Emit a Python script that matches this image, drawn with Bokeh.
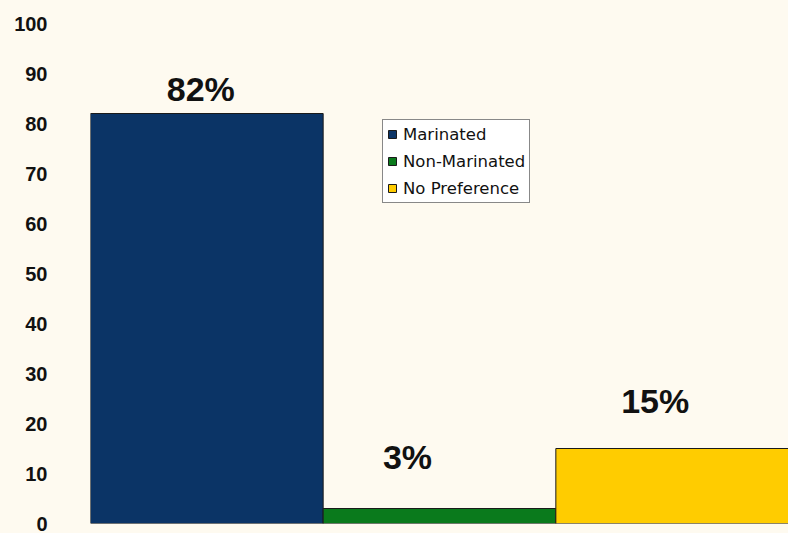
from bokeh.plotting import figure
from bokeh.models import ColumnDataSource, FixedTicker, LabelSet, Legend, LegendItem, FactorRange, Range1d
from bokeh.embed import file_html
from bokeh.resources import INLINE
from bokeh.core.properties import value

# ---- data ----
categories = ["Marinated", "Non-Marinated", "No Preference"]
percentages = [82, 3, 15]
pct_labels = ["82%", "3%", "15%"]
y_ticks = [0, 10, 20, 30, 40, 50, 60, 70, 80, 90, 100]

# ---- style / layout ----
colors = ["#0B3466", "#0A7A1C", "#FFCC00"]
label_dx = [-6, -32, -17]
label_dy = [25, 52, 48]
BG = "#FEFAF0"

src = ColumnDataSource(dict(cat=categories, val=percentages, lab=pct_labels,
                            color=colors, dx=label_dx, dy=label_dy))

p = figure(x_range=FactorRange(factors=categories, range_padding=0),
           y_range=Range1d(0, 100),
           width=788, height=533, output_backend="svg", toolbar_location=None,
           min_border_left=90, min_border_right=0, min_border_top=23, min_border_bottom=10)
p.background_fill_color = BG
p.border_fill_color = BG
p.outline_line_color = None
p.grid.visible = False

r = p.vbar(x="cat", top="val", width=1.0, source=src, fill_color="color",
           line_color="#1A1A1A", line_width=1)

p.xaxis.visible = False
yax = p.yaxis[0]
yax.ticker = FixedTicker(ticks=y_ticks)
yax.axis_line_color = None
yax.major_tick_line_color = None
yax.minor_tick_line_color = None
yax.major_tick_out = 0
yax.major_label_standoff = 43
yax.major_label_text_font = "Liberation Sans"
yax.major_label_text_font_style = "bold"
yax.major_label_text_font_size = "20px"
yax.major_label_text_color = "#111111"

labels = LabelSet(x="cat", y="val", text="lab", source=src, x_offset="dx", y_offset="dy",
                  text_align="center", text_baseline="middle",
                  text_font=value("Liberation Sans"), text_font_style="bold",
                  text_font_size="34px", text_color="#111111")
p.add_layout(labels)

legend = Legend(items=[LegendItem(label=c, renderers=[r], index=i) for i, c in enumerate(categories)],
                location=(292, 320), orientation="vertical",
                padding=4, spacing=7, margin=0,
                glyph_width=10, glyph_height=10, label_height=20, label_standoff=6,
                label_text_font="DejaVu Sans", label_text_font_size="16.5px",
                label_text_color="#111111",
                border_line_color="#111111", border_line_width=1,
                background_fill_color="#FFFFFF", background_fill_alpha=1.0)
p.add_layout(legend, "center")

html = file_html(p, INLINE)
html = html.replace("<head>", "<head><style>html,body{margin:0;padding:0;background:%s;overflow:hidden}</style>" % BG, 1)
open("out.html", "w").write(html)
